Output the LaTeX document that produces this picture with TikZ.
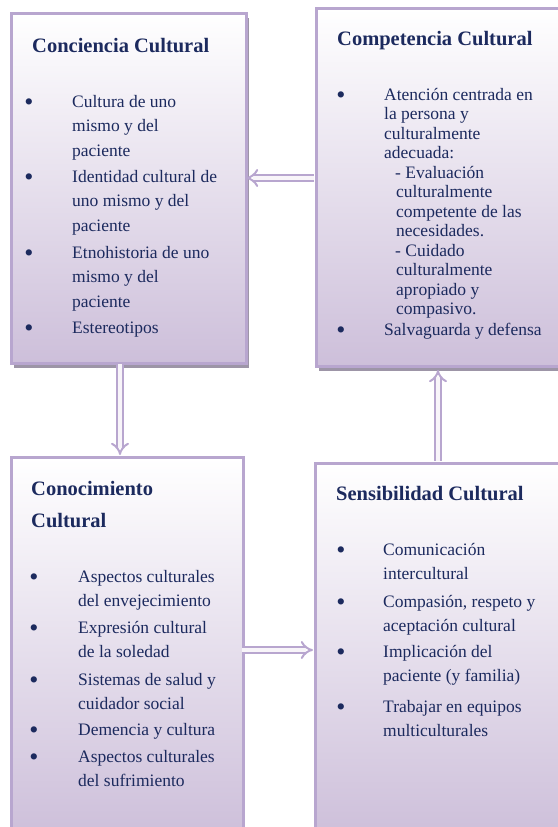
\documentclass[tikz,border=0pt]{standalone}
\usepackage{fontspec}
\setmainfont{Liberation Serif}
\usetikzlibrary{arrows.meta,shadows}
\definecolor{lav}{HTML}{CDBFDA}
\definecolor{bord}{HTML}{B8A6CF}
\definecolor{navy}{HTML}{1C2A5E}
\definecolor{shad}{HTML}{9D95A7}
\begin{document}
\begin{tikzpicture}[x=1pt,y=-1pt,
  box/.style={draw=bord, line width=2.5pt, top color=white, bottom color=lav,
    anchor=north west, inner sep=0pt},
  boxshadow/.style={general shadow={shadow xshift=3pt, shadow yshift=-5pt, fill=shad}},
  ttl/.style={anchor=base west, inner sep=0pt, text=navy, font=\fontsize{20.5}{32}\selectfont\bfseries, align=left},
  itm/.style={anchor=base west, inner sep=0pt, text=navy, font=\fontsize{17.5}{24.5}\selectfont, align=left},
  itmc/.style={itm, font=\fontsize{17.5}{19.5}\selectfont},
  bul/.style={anchor=base, inner sep=0pt, text=navy, font=\fontsize{26}{26}\selectfont, yshift=-3.5pt},
  conn/.style={draw=bord, line width=2pt, double=white!85!lav, double distance=4pt, -{Implies}}
]
\useasboundingbox (0,0) rectangle (557,827);

% boxes
\node[box, boxshadow, minimum width=235pt, minimum height=350pt] (b1) at (10,12) {};
\node[box, boxshadow, minimum width=262pt, minimum height=358pt] (b2) at (315,7) {};
\node[box, minimum width=232pt, minimum height=380pt] (b3) at (10,456) {};
\node[box, minimum width=262pt, minimum height=374pt] (b4) at (314,462) {};

% connectors
\coordinate (a1) at (314,178);
\coordinate (a2) at (246,178);
\draw[conn] (a1) -- (a2);
\coordinate (c1) at (120,364);
\coordinate (c2) at (120,455);
\draw[conn] (c1) -- (c2);
\coordinate (d1) at (242,650);
\coordinate (d2) at (313,650);
\draw[conn] (d1) -- (d2);
\coordinate (e1) at (438,461);
\coordinate (e2) at (438,370);
\draw[conn] (e1) -- (e2);

% Conciencia Cultural
\node[ttl] (t1) at (32,52) {Conciencia Cultural};
\node[bul] (p11) at (29,107) {\textbullet};
\node[itm] (i11) at (72,156) {Cultura de uno\\mismo y del\\paciente};
\node[bul] (p12) at (29,182) {\textbullet};
\node[itm] (i12) at (72,231) {Identidad cultural de\\uno mismo y del\\paciente};
\node[bul] (p13) at (29,258) {\textbullet};
\node[itm] (i13) at (72,307) {Etnohistoria de uno\\mismo y del\\paciente};
\node[bul] (p14) at (29,333) {\textbullet};
\node[itm] (i14) at (72,333) {Estereotipos};

% Competencia Cultural
\node[ttl] (t2) at (337,45) {Competencia Cultural};
\node[bul] (p21) at (341,100) {\textbullet};
\node[itmc] (i21) at (384,314.5) {Atención centrada en\\la persona y\\culturalmente\\adecuada:\\
  \hspace*{11pt}- Evaluación\\\hspace*{12pt}culturalmente\\\hspace*{12pt}competente de las\\\hspace*{12pt}necesidades.\\
  \hspace*{11pt}- Cuidado\\\hspace*{12pt}culturalmente\\\hspace*{12pt}apropiado y\\\hspace*{12pt}compasivo.};
\node[bul] (p22) at (341,335) {\textbullet};
\node[itm] (i22) at (384,335) {Salvaguarda y defensa};

% Conocimiento Cultural
\node[ttl] (t3) at (31,527) {Conocimiento\\Cultural};
\node[bul] (p31) at (34,582) {\textbullet};
\node[itm] (i31) at (78,606.5) {Aspectos culturales\\del envejecimiento};
\node[bul] (p32) at (34,633) {\textbullet};
\node[itm] (i32) at (78,657.5) {Expresión cultural\\de la soledad};
\node[bul] (p33) at (34,685) {\textbullet};
\node[itm] (i33) at (78,709.5) {Sistemas de salud y\\cuidador social};
\node[bul] (p34) at (34,735) {\textbullet};
\node[itm] (i34) at (78,735) {Demencia y cultura};
\node[bul] (p35) at (34,762) {\textbullet};
\node[itm] (i35) at (78,786.5) {Aspectos culturales\\del sufrimiento};

% Sensibilidad Cultural
\node[ttl] (t4) at (336,500) {Sensibilidad Cultural};
\node[bul] (p41) at (341,555) {\textbullet};
\node[itm] (i41) at (383,579.5) {Comunicación\\intercultural};
\node[bul] (p42) at (341,607) {\textbullet};
\node[itm] (i42) at (383,631.5) {Compasión, respeto y\\aceptación cultural};
\node[bul] (p43) at (341,657) {\textbullet};
\node[itm] (i43) at (383,681.5) {Implicación del\\paciente (y familia)};
\node[bul] (p44) at (341,712) {\textbullet};
\node[itm] (i44) at (383,736.5) {Trabajar en equipos\\multiculturales};
\end{tikzpicture}
\end{document}
